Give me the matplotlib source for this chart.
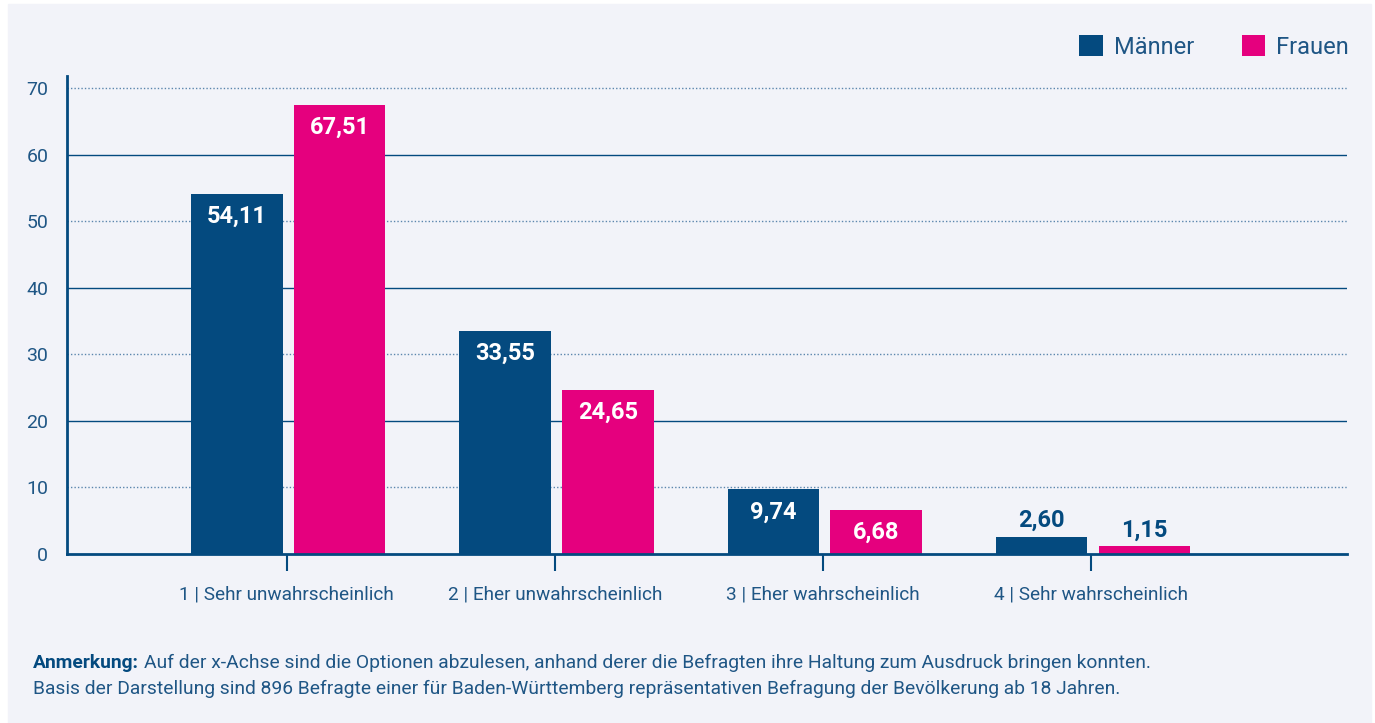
import numpy as np
import matplotlib.pyplot as plt
from matplotlib.patches import Rectangle

plt.rcParams['font.family'] = ['Roboto', 'DejaVu Sans']

kategorien = ['1 | Sehr unwahrscheinlich', '2 | Eher unwahrscheinlich',
              '3 | Eher wahrscheinlich', '4 | Sehr wahrscheinlich']
maenner = [54.11, 33.55, 9.74, 2.60]
frauen = [67.51, 24.65, 6.68, 1.15]

blau = '#044a7f'
pink = '#e5007e'
text_col = '#1f5685'
bg = '#f2f3f9'

fig = plt.figure(figsize=(13.75, 7.23), dpi=100, facecolor='white')
# hellgrauer Hintergrund mit schmalem weissen Rand
fig.patches.append(Rectangle((8/1375, 0), 1363/1375, 719/723,
                             transform=fig.transFigure, color=bg, zorder=-1))

ax = fig.add_axes([67/1375, 1-554/723, 1280/1375, (554-76)/723])
ax.set_facecolor(bg)

x = np.arange(len(kategorien))
w = 0.34
off = 0.192
b1 = ax.bar(x - off + 0.006, maenner, w, color=blau, zorder=3)
b2 = ax.bar(x + off + 0.006, frauen, w, color=pink, zorder=3)

# Beschriftung der Balken
for bars, vals in [(b1, maenner), (b2, frauen)]:
    for b, v in zip(bars, vals):
        s = f'{v:.2f}'.replace('.', ',')
        cx = b.get_x() + b.get_width()/2
        if v > 5:
            ax.text(cx, v - 3.4, s, ha='center', va='center', color='white',
                    fontsize=17, fontweight='bold', zorder=4)
        else:
            ax.text(cx, v + 2.4, s, ha='center', va='center', color=blau,
                    fontsize=17, fontweight='bold', zorder=4)

ax.set_xlim(-0.82, 3.955)
ax.set_ylim(0, 71.8)
ax.set_yticks([0, 10, 20, 30, 40, 50, 60, 70])
for yv in [10, 30, 50, 70]:
    ax.axhline(yv, color='#5b86ad', lw=1, ls=(0, (1, 1.5)), zorder=1)
for yv in [20, 40, 60]:
    ax.axhline(yv, color=blau, lw=1, zorder=1)

ax.set_xticks(x)
ax.set_xticklabels(kategorien)
ax.tick_params(axis='x', length=12, width=1.5, color=blau, labelsize=13.7,
               labelcolor=text_col, pad=11)
ax.tick_params(axis='y', length=0, labelsize=14, labelcolor=text_col, pad=13.5)
for sp in ['top', 'right']:
    ax.spines[sp].set_visible(False)
ax.spines['left'].set_color(blau)
ax.spines['left'].set_linewidth(2)
ax.spines['bottom'].set_color(blau)
ax.spines['bottom'].set_linewidth(2)
ax.spines['bottom'].set_zorder(5)

# Legende
leg = fig.legend([b1, b2], ['Männer', 'Frauen'], loc='center right',
                 bbox_to_anchor=(1349/1375, 1-47/723), ncol=2, frameon=False,
                 handlelength=1.0, handleheight=1.0, handletextpad=0.47,
                 columnspacing=2.0, fontsize=17, borderpad=0, borderaxespad=0)
for t in leg.get_texts():
    t.set_color(text_col)

# Anmerkung
fs = 13.9
t1 = fig.text(33/1375, 1-663/723, 'Anmerkung:', fontsize=fs, color=blau,
              fontweight='bold', va='center')
fig.canvas.draw()
bb = t1.get_window_extent()
fig.text((bb.x1 + 5)/1375, 1-663/723,
         'Auf der x-Achse sind die Optionen abzulesen, anhand derer die Befragten ihre Haltung zum Ausdruck bringen konnten.',
         fontsize=fs, color=text_col, va='center')
fig.text(33/1375, 1-689/723,
         'Basis der Darstellung sind 896 Befragte einer für Baden-Württemberg repräsentativen Befragung der Bevölkerung ab 18 Jahren.',
         fontsize=fs, color=text_col, va='center')

fig.savefig('out.png', dpi=100, facecolor='white')
